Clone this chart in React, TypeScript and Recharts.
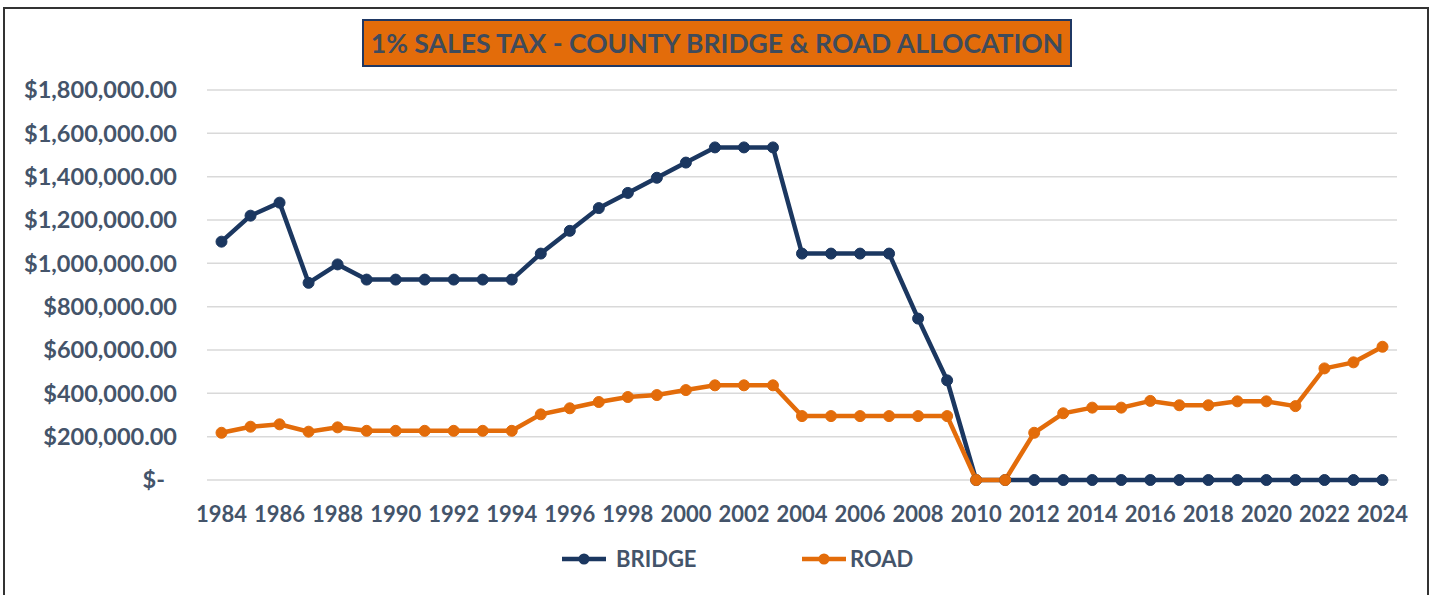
import React from 'react';
import { LineChart, Line, XAxis, YAxis, CartesianGrid, Legend } from 'recharts';

const years = [
  '1984', '1985', '1986', '1987', '1988', '1989', '1990', '1991', '1992', '1993',
  '1994', '1995', '1996', '1997', '1998', '1999', '2000', '2001', '2002', '2003',
  '2004', '2005', '2006', '2007', '2008', '2009', '2010', '2011', '2012', '2013',
  '2014', '2015', '2016', '2017', '2018', '2019', '2020', '2021', '2022', '2023', '2024',
];

const bridge = [
  1100000, 1220000, 1280000, 910000, 995000, 925000, 925000, 925000, 925000, 925000,
  925000, 1045000, 1150000, 1255000, 1325000, 1395000, 1465000, 1535000, 1535000, 1535000,
  1045000, 1045000, 1045000, 1045000, 745000, 460000, 0, 0, 0, 0,
  0, 0, 0, 0, 0, 0, 0, 0, 0, 0, 0,
];

const road = [
  218000, 246000, 257000, 223000, 243000, 227000, 227000, 227000, 227000, 227000,
  227000, 303000, 331000, 360000, 383000, 392000, 415000, 437000, 437000, 437000,
  295000, 295000, 295000, 295000, 295000, 295000, 0, 0, 218000, 308000,
  334000, 334000, 365000, 345000, 345000, 363000, 363000, 341000, 515000, 543000, 615000,
];

const yTicks = [0, 200000, 400000, 600000, 800000, 1000000, 1200000, 1400000, 1600000, 1800000];

const seriesNames = ['BRIDGE', 'ROAD'];
const title = '1% SALES TAX - COUNTY BRIDGE & ROAD ALLOCATION';

const NAVY = '#1b3760';
const ORANGE = '#e36c0a';
const TEXT = '#44546a';
const FONT = 'Lato, "Open Sans", sans-serif';

const data = years.map((y, i) => ({ year: y, BRIDGE: bridge[i], ROAD: road[i] }));

const fmtMoney = (v: number) =>
  v === 0
    ? '$-'
    : '$' + v.toLocaleString('en-US', { minimumFractionDigits: 2, maximumFractionDigits: 2 });

const YTick = (props: any) => {
  const { x, y, payload } = props;
  const isZero = payload.value === 0;
  return (
    <text
      x={x - (isZero ? 12 : 0)}
      y={y}
      dy="0.36em"
      textAnchor="end"
      fill={TEXT}
      fontFamily={FONT}
      fontWeight={700}
      fontSize={23.5}
    >
      {fmtMoney(payload.value)}
    </text>
  );
};

const LegendContent = () => {
  const items = [
    { name: seriesNames[0], color: NAVY, left: 562, gap: 10 },
    { name: seriesNames[1], color: ORANGE, left: 802, gap: 4 },
  ];
  return (
    <div style={{ position: 'relative', width: 1435, height: 30 }}>
      {items.map((it) => (
        <div
          key={it.name}
          style={{
            position: 'absolute',
            left: it.left,
            top: 0,
            height: 30,
            display: 'flex',
            alignItems: 'center',
          }}
        >
          <svg width={44} height={14} style={{ display: 'block' }}>
            <line x1={0} y1={7} x2={44} y2={7} stroke={it.color} strokeWidth={4.5} />
            <circle cx={22} cy={7} r={5.5} fill={it.color} />
          </svg>
          <span
            style={{
              marginLeft: it.gap,
              fontFamily: FONT,
              fontWeight: 700,
              fontSize: 22,
              color: TEXT,
              lineHeight: '30px',
            }}
          >
            {it.name}
          </span>
        </div>
      ))}
    </div>
  );
};

export default function App() {
  return (
    <div
      style={{
        position: 'fixed',
        left: 0,
        top: 0,
        width: 1435,
        height: 595,
        background: '#ffffff',
        overflow: 'hidden',
      }}
    >
      <div
        style={{
          position: 'absolute',
          left: 3,
          top: 7,
          width: 1426,
          height: 620,
          boxSizing: 'border-box',
          border: '2px solid #333333',
        }}
      />
      <div style={{ position: 'absolute', left: 0, top: 0 }}>
        <LineChart
          width={1435}
          height={595}
          data={data}
          margin={{ top: 90, right: 38, bottom: 75, left: 0 }}
        >
          <CartesianGrid horizontal vertical={false} stroke="#d9d9d9" strokeWidth={1.5} />
          <XAxis
            dataKey="year"
            interval={1}
            axisLine={false}
            tickLine={false}
            tickSize={0}
            tickMargin={26}
            height={40}
            padding={{ left: 14.5, right: 14.5 }}
            tick={{ fill: TEXT, fontFamily: FONT, fontWeight: 700, fontSize: 22 }}
          />
          <YAxis
            width={207}
            domain={[0, 1800000]}
            ticks={yTicks}
            axisLine={false}
            tickLine={false}
            tickSize={0}
            tickMargin={30}
            tick={<YTick />}
          />
          <Legend
            verticalAlign="middle"
            align="center"
            content={<LegendContent />}
            wrapperStyle={{ top: 544, left: 0, width: 1435, height: 30 }}
          />
          <Line
            type="linear"
            dataKey="BRIDGE"
            stroke={NAVY}
            strokeWidth={4.5}
            dot={{ r: 5.5, fill: NAVY, stroke: NAVY, strokeWidth: 1 }}
            isAnimationActive={false}
          />
          <Line
            type="linear"
            dataKey="ROAD"
            stroke={ORANGE}
            strokeWidth={4.5}
            dot={{ r: 5.5, fill: ORANGE, stroke: ORANGE, strokeWidth: 1 }}
            isAnimationActive={false}
          />
        </LineChart>
      </div>
      <div
        style={{
          position: 'absolute',
          left: 362,
          top: 19,
          width: 710,
          height: 48,
          boxSizing: 'border-box',
          border: '2px solid #1f3864',
          background: ORANGE,
          display: 'flex',
          alignItems: 'center',
          justifyContent: 'center',
          fontFamily: FONT,
          fontWeight: 700,
          fontSize: 26.5,
          color: '#3e4b5c',
          whiteSpace: 'nowrap',
        }}
      >
        {title}
      </div>
    </div>
  );
}
